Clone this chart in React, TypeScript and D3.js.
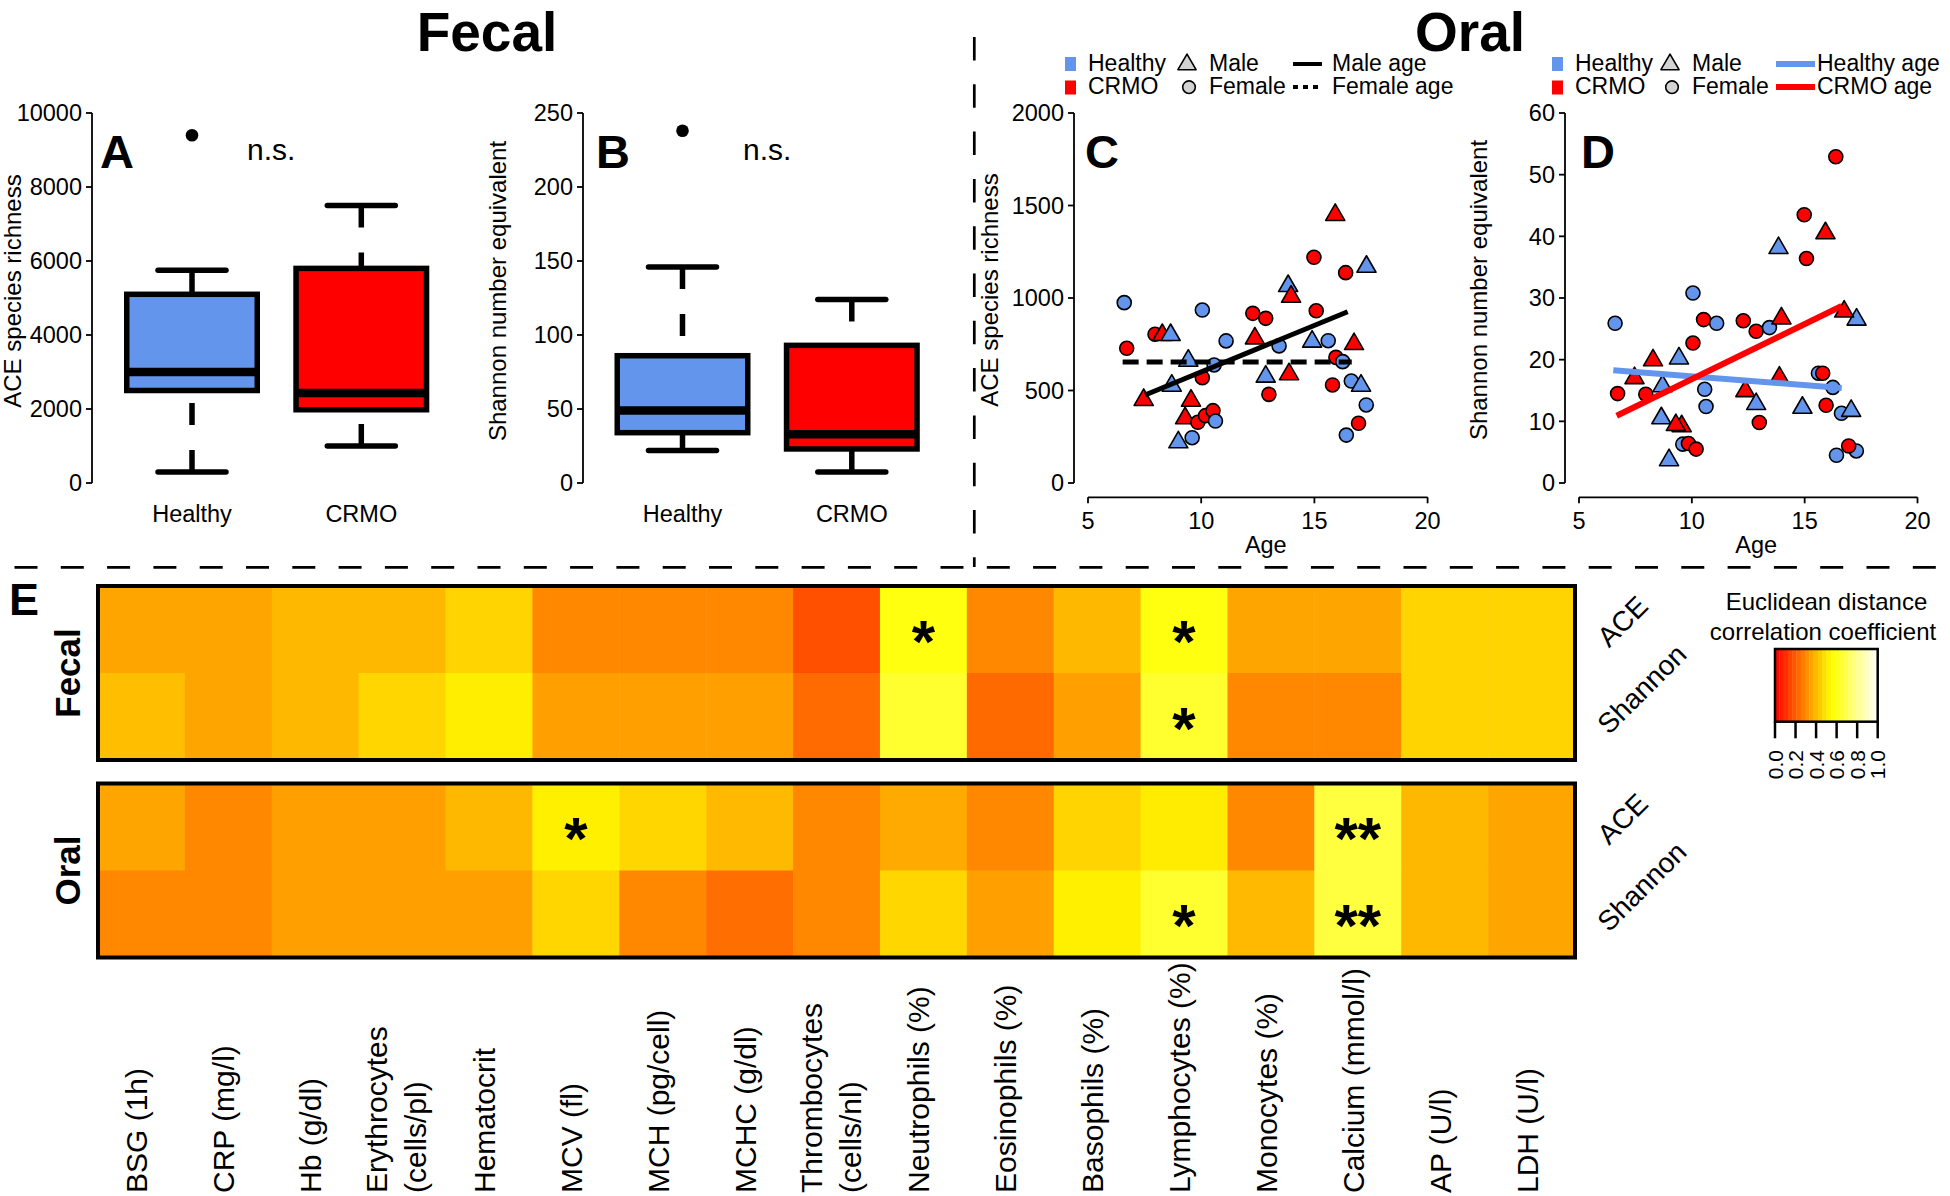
import React from "react";
import * as d3 from "d3";

const FONT = "'Liberation Sans', Arial, Helvetica, sans-serif";
const BLUE = "#6495ED";
const RED = "#FF0000";
const GREY = "#D3D3D3";

// ---------- Panels A & B : box plot summaries ----------
const boxGroups = ["Healthy", "CRMO"];
const boxColors = [BLUE, RED];
const aceLower = [300, 1000];
const aceQ1 = [2500, 1980];
const aceMedian = [3000, 2430];
const aceQ3 = [5100, 5800];
const aceUpper = [5750, 7500];
const aceOutliers = [[9400], []];
const aceTicks = [0, 2000, 4000, 6000, 8000, 10000];

const shanLower = [22, 7.5];
const shanQ1 = [34, 23];
const shanMedian = [49, 33];
const shanQ3 = [86, 93];
const shanUpper = [146, 124];
const shanOutliers = [[238], []];
const shanTicks = [0, 50, 100, 150, 200, 250];

// ---------- Panels C & D : oral samples ----------
const sampleAge = [6.6, 6.71, 7.96, 8.28, 8.65, 7.46, 8.7, 9.43, 9.55, 9.29, 8.99, 9.6, 9.85, 10.19, 10.52,
  10.63, 10.05, 10.05, 10.57, 11.1, 12.28, 12.85, 12.37, 12.85, 12.99, 13.44, 13.84, 13.97, 13.88, 14.98,
  15.08, 14.9, 15.61, 15.92, 16.38, 17.3, 16.75, 15.95, 16.25, 15.8, 16.63, 17.06, 17.29, 16.95, 16.41];
const sampleGroup = ["H", "C", "C", "C", "H", "C", "H", "H", "C", "C", "H", "H", "C", "C", "C",
  "H", "C", "H", "H", "H", "C", "C", "C", "H", "C", "H", "H", "C", "C", "C",
  "C", "H", "H", "C", "C", "H", "C", "C", "H", "C", "H", "H", "H", "C", "H"];
const sampleSex = ["F", "F", "F", "M", "M", "M", "M", "M", "M", "M", "M", "F", "F", "F", "F",
  "F", "F", "F", "F", "F", "F", "F", "M", "M", "F", "F", "M", "M", "M", "F",
  "F", "M", "F", "M", "F", "M", "M", "F", "F", "F", "F", "M", "F", "F", "F"];
const sampleACE = [975, 728, 804, 800, 800, 449, 526, 661, 445, 350, 220, 245, 328, 364, 391,
  335, 569, 935, 638, 768, 917, 890, 782, 575, 479, 741, 1065, 1007, 588, 1220,
  931, 764, 769, 1449, 1137, 1169, 751, 679, 656, 530, 551, 526, 422, 323, 259];
const sampleShannon = [25.9, 14.5, 14.4, 19.9, 10.5, 17.0, 15.7, 20.2, 9.2, 9.4, 3.7, 6.3, 6.4, 5.5, 26.5,
  12.4, 22.7, 30.8, 15.2, 25.9, 26.3, 24.6, 14.9, 12.8, 9.8, 25.2, 38.1, 26.7, 17.1, 43.5,
  36.4, 12.2, 17.8, 40.5, 52.9, 26.5, 27.8, 12.6, 15.5, 17.8, 11.3, 11.7, 5.2, 6.0, 4.5];

const maleAgeLine = [[7.52, 476], [16.47, 926]];
const femaleAgeLine = [[6.53, 654], [16.65, 654]];
const healthyAgeLine = [[6.52, 18.3], [16.64, 15.4]];
const crmoAgeLine = [[6.67, 10.9], [16.64, 28.7]];

const ageTicks = [5, 10, 15, 20];
const oralAceTicks = [0, 500, 1000, 1500, 2000];
const oralShanTicks = [0, 10, 20, 30, 40, 50, 60];

// ---------- Panel E : heatmap ----------
const heatCols = ["BSG (1h)", "CRP (mg/l)", "Hb (g/dl)", "Erythrocytes|(cells/pl)", "Hematocrit", "MCV (fl)",
  "MCH (pg/cell)", "MCHC (g/dl)", "Thrombocytes|(cells/nl)", "Neutrophils (%)", "Eosinophils (%)",
  "Basophils (%)", "Lymphocytes (%)", "Monocytes (%)", "Calcium (mmol/l)", "AP (U/l)", "LDH (U/l)"];
const heatRows = ["ACE", "Shannon"];
const fecalACE = [0.356, 0.356, 0.397, 0.397, 0.457, 0.293, 0.293, 0.293, 0.173, 0.578, 0.293, 0.397, 0.578, 0.356, 0.356, 0.457, 0.457];
const fecalShannon = [0.41, 0.356, 0.397, 0.462, 0.513, 0.345, 0.345, 0.345, 0.23, 0.635, 0.229, 0.345, 0.635, 0.293, 0.293, 0.457, 0.457];
const oralACE = [0.356, 0.293, 0.345, 0.345, 0.397, 0.518, 0.462, 0.401, 0.293, 0.367, 0.293, 0.457, 0.509, 0.293, 0.663, 0.397, 0.356];
const oralShannon = [0.293, 0.293, 0.345, 0.345, 0.345, 0.462, 0.293, 0.237, 0.293, 0.462, 0.345, 0.518, 0.635, 0.401, 0.663, 0.397, 0.356];
const fecalACESig = ["", "", "", "", "", "", "", "", "", "*", "", "", "*", "", "", "", ""];
const fecalShannonSig = ["", "", "", "", "", "", "", "", "", "", "", "", "*", "", "", "", ""];
const oralACESig = ["", "", "", "", "", "*", "", "", "", "", "", "", "", "", "**", "", ""];
const oralShannonSig = ["", "", "", "", "", "", "", "", "", "", "", "", "*", "", "**", "", ""];
const colorbarTicks = [0, 0.2, 0.4, 0.6, 0.8, 1.0];

const heatColor = d3.scaleLinear<string>().domain([0, 0.55, 1]).range(["#FF0000", "#FFFF00", "#FFFFFF"]).interpolate(d3.interpolateRgb);

const TXT = 23.5;

function YAxis({ x, scale, ticks, fmt }: any) {
  const [r0, r1] = [scale(ticks[0]), scale(ticks[ticks.length - 1])];
  return (
    <g>
      <line x1={x} x2={x} y1={r0} y2={r1} stroke="#000" strokeWidth={1.8} />
      {ticks.map((t: number) => (
        <g key={t}>
          <line x1={x - 6} x2={x} y1={scale(t)} y2={scale(t)} stroke="#000" strokeWidth={1.8} />
          <text x={x - 10} y={scale(t)} dy="0.36em" textAnchor="end" fontSize={TXT}>{fmt ? fmt(t) : t}</text>
        </g>
      ))}
    </g>
  );
}

function XAxis({ y, scale, ticks }: any) {
  return (
    <g>
      <line x1={scale(ticks[0])} x2={scale(ticks[ticks.length - 1])} y1={y} y2={y} stroke="#000" strokeWidth={1.8} />
      {ticks.map((t: number) => (
        <g key={t}>
          <line x1={scale(t)} x2={scale(t)} y1={y} y2={y + 6} stroke="#000" strokeWidth={1.8} />
          <text x={scale(t)} y={y + 23} dy="0.36em" textAnchor="middle" fontSize={TXT}>{t}</text>
        </g>
      ))}
    </g>
  );
}

function BoxPanel({ axisX, x0, yMax, ticks, lower, q1, med, q3, upper, outliers, letter, letterX, nsX, ylab, ylabX }: any) {
  const y = d3.scaleLinear().domain([0, yMax]).range([483, 113]);
  const x = d3.scaleLinear().domain([0, 1]).range([x0, x0 + 169.3]);
  const hw = 65.25;
  const lw = 5.5;
  return (
    <g>
      <YAxis x={axisX} scale={y} ticks={ticks} />
      <text transform={`translate(${ylabX},291) rotate(-90)`} textAnchor="middle" fontSize={24}>{ylab}</text>
      {boxGroups.map((g, i) => {
        const cx = x(i);
        return (
          <g key={g}>
            <line x1={cx} x2={cx} y1={y(upper[i])} y2={y(q3[i])} stroke="#000" strokeWidth={lw} strokeDasharray="22 25" />
            <line x1={cx} x2={cx} y1={y(lower[i])} y2={y(q1[i])} stroke="#000" strokeWidth={lw} strokeDasharray="22 25" />
            <line x1={cx - 34} x2={cx + 34} y1={y(upper[i])} y2={y(upper[i])} stroke="#000" strokeWidth={lw} strokeLinecap="round" />
            <line x1={cx - 34} x2={cx + 34} y1={y(lower[i])} y2={y(lower[i])} stroke="#000" strokeWidth={lw} strokeLinecap="round" />
            <rect x={cx - hw} width={2 * hw} y={y(q3[i])} height={y(q1[i]) - y(q3[i])} fill={boxColors[i]} stroke="#000" strokeWidth={lw} />
            <line x1={cx - hw} x2={cx + hw} y1={y(med[i])} y2={y(med[i])} stroke="#000" strokeWidth={8.5} />
            {outliers[i].map((o: number, k: number) => (
              <circle key={k} cx={cx} cy={y(o)} r={6.3} fill="#000" />
            ))}
            <text x={cx} y={514} dy="0.36em" textAnchor="middle" fontSize={TXT}>{g}</text>
          </g>
        );
      })}
      <text x={letterX} y={168} fontSize={47} fontWeight="bold">{letter}</text>
      <text x={nsX} y={160} fontSize={30}>n.s.</text>
    </g>
  );
}

function Marker({ cx, cy, sex, fill, size = 1 }: any) {
  if (sex === "M") {
    const r = 11 * size;
    const pts = [[0, -r], [r * 0.866, r * 0.5], [-r * 0.866, r * 0.5]].map(([a, b]) => `${cx + a},${cy + b}`).join(" ");
    return <polygon points={pts} fill={fill} stroke="#000" strokeWidth={1.6} strokeLinejoin="round" />;
  }
  return <circle cx={cx} cy={cy} r={7 * size} fill={fill} stroke="#000" strokeWidth={1.6} />;
}

function ScatterPanel({ axisX, xr, yMax, yTicks, values, lines, letter, letterX, ylab, ylabX, legendX, lineLabels, lineStyles }: any) {
  const x = d3.scaleLinear().domain([5, 20]).range(xr);
  const y = d3.scaleLinear().domain([0, yMax]).range([483, 113]);
  const line = d3.line<number[]>().x((d) => x(d[0])).y((d) => y(d[1]));
  const L = legendX;
  return (
    <g>
      <YAxis x={axisX} scale={y} ticks={yTicks} />
      <XAxis y={497.3} scale={x} ticks={ageTicks} />
      <text x={(xr[0] + xr[1]) / 2 + 8} y={545} dy="0.36em" textAnchor="middle" fontSize={TXT}>Age</text>
      <text transform={`translate(${ylabX},290) rotate(-90)`} textAnchor="middle" fontSize={24}>{ylab}</text>
      <text x={letterX} y={168} fontSize={47} fontWeight="bold">{letter}</text>
      {sampleAge.map((a, i) => (
        <Marker key={i} cx={x(a)} cy={y(values[i])} sex={sampleSex[i]} fill={sampleGroup[i] === "H" ? BLUE : RED} />
      ))}
      {lines.map((ln: number[][], i: number) => (
        <path key={i} d={line(ln) as string} stroke={lineStyles[i].color} strokeWidth={lineStyles[i].width} strokeDasharray={lineStyles[i].dash} fill="none" />
      ))}
      {/* legend */}
      <rect x={L.rect - 1} y={57} width={11} height={14} fill={BLUE} />
      <rect x={L.rect - 1} y={80.5} width={11} height={14} fill={RED} />
      <text x={L.rect + 22} y={70.7} fontSize={23}>Healthy</text>
      <text x={L.rect + 22} y={94.3} fontSize={23}>CRMO</text>
      <Marker cx={L.sym} cy={64.5} sex="M" fill={GREY} size={0.95} />
      <Marker cx={L.sym + 2} cy={87.2} sex="F" fill={GREY} size={0.9} />
      <text x={L.sym + 22} y={70.7} fontSize={23}>Male</text>
      <text x={L.sym + 22} y={94.3} fontSize={23}>Female</text>
      <line x1={L.line[0]} x2={L.line[1]} y1={64} y2={64} stroke={lineStyles[0].color} strokeWidth={lineStyles[0].legendWidth} strokeDasharray={lineStyles[0].legendDash} />
      <line x1={L.line[0]} x2={L.line[1]} y1={87} y2={87} stroke={lineStyles[1].color} strokeWidth={lineStyles[1].legendWidth} strokeDasharray={lineStyles[1].legendDash} />
      <text x={L.text} y={70.7} fontSize={23}>{lineLabels[0]}</text>
      <text x={L.text} y={94.3} fontSize={23}>{lineLabels[1]}</text>
    </g>
  );
}

function Heatmap({ top, values, sigs, label }: any) {
  const x = d3.scaleBand<string>().domain(heatCols).range([98, 1575]);
  const y = d3.scaleBand<string>().domain(heatRows).range([top, top + 174]);
  return (
    <g>
      {heatRows.map((r, ri) =>
        heatCols.map((c, ci) => (
          <rect key={r + c} x={x(c)} y={y(r)} width={x.bandwidth() + 0.5} height={y.bandwidth() + 0.5} fill={heatColor(values[ri][ci])} />
        ))
      )}
      {heatRows.map((r, ri) =>
        heatCols.map((c, ci) =>
          sigs[ri][ci] ? (
            <text key={"s" + r + c} x={(x(c) as number) + x.bandwidth() / 2} y={(y(r) as number) + y.bandwidth() / 2 + 32} textAnchor="middle" fontSize={60} fontWeight="bold">{sigs[ri][ci]}</text>
          ) : null
        )
      )}
      <rect x={98} y={top} width={1477} height={174} fill="none" stroke="#000" strokeWidth={4} />
      <text transform={`translate(80,${top + 87}) rotate(-90)`} textAnchor="middle" fontSize={35} fontWeight="bold">{label}</text>
      {heatRows.map((r) => (
        <text key={"l" + r} transform={`translate(1609,${(y(r) as number) + y.bandwidth() / 2 + 19}) rotate(-45)`} fontSize={28}>{r}</text>
      ))}
    </g>
  );
}

export default function App() {
  const cb = d3.scaleLinear().domain([0, 1]).range([1775, 1877.7]);
  const steps = d3.range(24);
  const bandX = d3.scaleBand<string>().domain(heatCols).range([98, 1575]);
  return (
    <svg width={1950} height={1196} style={{ position: "absolute", left: 0, top: 0, background: "#fff" }} fontFamily={FONT}>
      <rect x={0} y={0} width={1950} height={1196} fill="#fff" />
      <text x={487} y={51} textAnchor="middle" fontSize={55} fontWeight="bold">Fecal</text>
      <text x={1470} y={51} textAnchor="middle" fontSize={55} fontWeight="bold">Oral</text>

      <BoxPanel axisX={92} x0={192} yMax={10000} ticks={aceTicks} lower={aceLower} q1={aceQ1} med={aceMedian} q3={aceQ3} upper={aceUpper}
        outliers={aceOutliers} letter="A" letterX={100} nsX={247} ylab="ACE species richness" ylabX={21} />
      <BoxPanel axisX={583} x0={682.5} yMax={250} ticks={shanTicks} lower={shanLower} q1={shanQ1} med={shanMedian} q3={shanQ3} upper={shanUpper}
        outliers={shanOutliers} letter="B" letterX={596} nsX={743} ylab="Shannon number equivalent" ylabX={506} />

      <ScatterPanel axisX={1074} xr={[1088, 1427.6]} yMax={2000} yTicks={oralAceTicks} values={sampleACE}
        lines={[maleAgeLine, femaleAgeLine]} letter="C" letterX={1085} ylab="ACE species richness" ylabX={998}
        legendX={{ rect: 1066, sym: 1187, line: [1293, 1322], text: 1332 }} lineLabels={["Male age", "Female age"]}
        lineStyles={[{ color: "#000", width: 5, legendWidth: 4 }, { color: "#000", width: 5, dash: "16 8", legendWidth: 4, legendDash: "5 5" }]} />
      <ScatterPanel axisX={1565} xr={[1579, 1917.5]} yMax={60} yTicks={oralShanTicks} values={sampleShannon}
        lines={[healthyAgeLine, crmoAgeLine]} letter="D" letterX={1581} ylab="Shannon number equivalent" ylabX={1487}
        legendX={{ rect: 1553, sym: 1670, line: [1776, 1815], text: 1817 }} lineLabels={["Healthy age", "CRMO age"]}
        lineStyles={[{ color: BLUE, width: 6, legendWidth: 6 }, { color: RED, width: 6, legendWidth: 6 }]} />

      {/* separators */}
      <line x1={974.3} x2={974.3} y1={37} y2={567} stroke="#000" strokeWidth={2.7} strokeDasharray="23.5 23.8" />
      <line x1={-31.8} x2={1950} y1={567.3} y2={567.3} stroke="#000" strokeWidth={2.7} strokeDasharray="23 23.3" />

      {/* panel E */}
      <text x={9} y={615} fontSize={45} fontWeight="bold">E</text>
      <Heatmap top={586} values={[fecalACE, fecalShannon]} sigs={[fecalACESig, fecalShannonSig]} label="Fecal" />
      <Heatmap top={783.5} values={[oralACE, oralShannon]} sigs={[oralACESig, oralShannonSig]} label="Oral" />

      {heatCols.map((c) => {
        const cx = (bandX(c) as number) + bandX.bandwidth() / 2;
        const parts = c.split("|");
        const offs = parts.length === 1 ? [6] : [-15, 24];
        return parts.map((p, k) => (
          <text key={c + k} transform={`translate(${cx + offs[k]},1193) rotate(-90)`} fontSize={30}>{p}</text>
        ));
      })}

      {/* color key */}
      <text x={1826.5} y={610} textAnchor="middle" fontSize={24}>Euclidean distance</text>
      <text x={1823} y={639.5} textAnchor="middle" fontSize={24}>correlation coefficient</text>
      {steps.map((i) => {
        const v0 = i / steps.length;
        const v1 = (i + 1) / steps.length;
        return <rect key={i} x={cb(v0)} y={649} width={cb(v1) - cb(v0) + 0.4} height={72.7} fill={heatColor((v0 + v1) / 2)} />;
      })}
      <rect x={cb(0)} y={649} width={cb(1) - cb(0)} height={72.7} fill="none" stroke="#000" strokeWidth={2.5} />
      {colorbarTicks.map((t) => (
        <g key={t}>
          <line x1={cb(t)} x2={cb(t)} y1={721.7} y2={738.3} stroke="#000" strokeWidth={2.5} />
          <text transform={`translate(${cb(t) + 7.5},750) rotate(-90)`} textAnchor="end" fontSize={21}>{t.toFixed(1)}</text>
        </g>
      ))}
    </svg>
  );
}
